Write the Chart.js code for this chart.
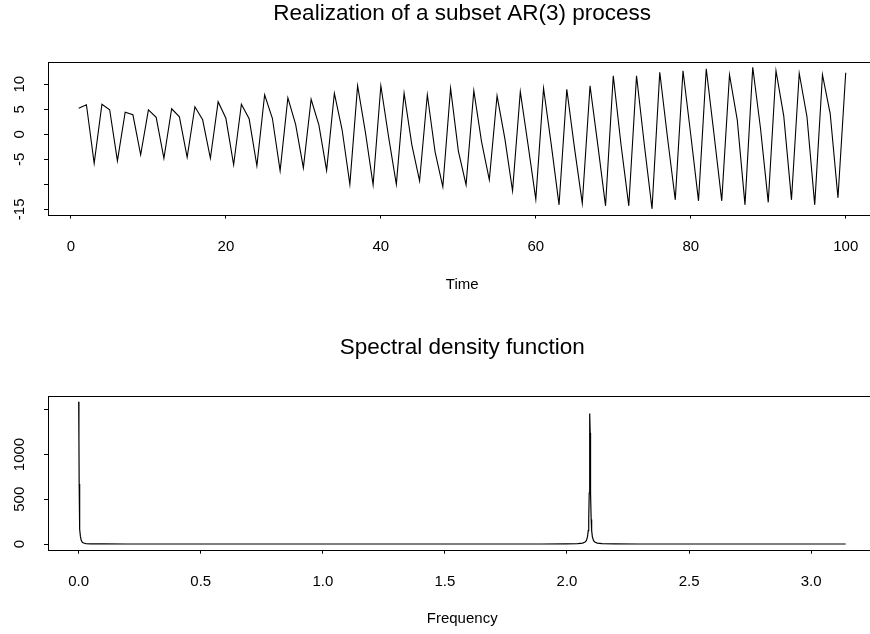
<!DOCTYPE html>
<html>
<head>
<meta charset="utf-8">
<script src="https://cdn.jsdelivr.net/npm/chart.js@4.4.1/dist/chart.umd.min.js"></script>
<style>
  html, body { margin: 0; padding: 0; background: #fff; overflow: hidden; }
  #wrap { position: relative; width: 870px; height: 634px; overflow: hidden; }
  canvas { position: absolute; left: 0; }
</style>
</head>
<body>
<div id="wrap">
  <canvas id="graficoSerie" width="900" height="317" style="top:0"></canvas>
  <canvas id="graficoEspectro" width="900" height="317" style="top:317px"></canvas>
</div>
<script>
// serie simulada (t = 1..100)
const arValues = [
  5.2, 5.9, -5.8, 6.0, 4.9, -5.3, 4.4, 3.9, -4.1, 4.9,
  3.4, -4.8, 5.1, 3.5, -4.6, 5.5, 2.9, -4.8, 6.5, 3.2,
  -6.1, 6.0, 3.1, -6.3, 7.9, 3.2, -7.3, 7.3, 2.0, -6.7,
  7.0, 1.9, -7.2, 8.2, 0.9, -10.0, 9.7, 0.5, -10.1, 9.7,
  -0.5, -10.0, 8.2, -2.1, -9.3, 7.9, -3.5, -10.5, 9.2, -3.3,
  -10.1, 8.7, -1.5, -9.1, 7.7, -0.8, -11.3, 8.5, -2.1, -13.0,
  9.2, -2.1, -14.1, 9.0, -2.8, -13.8, 9.7, -2.1, -14.3, 11.7,
  -2.1, -14.3, 11.7, -2.0, -14.9, 12.4, -0.7, -13.1, 12.7, -0.1,
  -13.3, 13.1, 0.0, -13.3, 11.9, 2.9, -14.1, 13.4, 1.2, -13.6,
  12.7, 3.7, -13.1, 12.2, 3.5, -14.1, 11.9, 4.1, -12.7, 12.3
];
const timeTicks = [0, 20, 40, 60, 80, 100];
const arYTicks = [-15, -10, -5, 0, 5, 10];
const arYHidden = [-10];

// densidad espectral (frecuencia, valor)
const specFreq = [
  0, 0.001, 0.002, 0.003, 0.004, 0.005, 0.007, 0.01, 0.015, 0.02,
  0.03, 0.05, 0.1, 0.2, 0.5, 1.0, 1.5, 1.894, 1.994, 2.044,
  2.064, 2.074, 2.079, 2.084, 2.087, 2.089, 2.091, 2.092, 2.093, 2.094,
  2.095, 2.096, 2.097, 2.099, 2.101, 2.104, 2.109, 2.114, 2.124, 2.144,
  2.194, 2.294, 2.6, 3.0, 3.1416
];
const specDens = [
  1590, 1180, 670, 390, 240, 165, 88, 45, 20, 11.5,
  5.1, 1.8, 0.5, 0.15, 0.06, 0.05, 0.08, 0.25, 0.9, 3.4,
  9.3, 21, 37, 80, 150, 275, 570, 860, 1240, 1457,
  1240, 860, 570, 275, 150, 80, 37, 21, 9.3, 3.4,
  0.9, 0.25, 0.1, 0.07, 0.06
];
const freqTicks = [0, 0.5, 1, 1.5, 2, 2.5, 3];
const densTicks = [0, 500, 1000, 1500];
const densHidden = [1500];

Chart.defaults.font.family = '"Liberation Sans", Arial, Helvetica, sans-serif';
Chart.defaults.color = '#000';

// caja alrededor del area de trazado (bty = "o")
const marco = {
  id: 'marco',
  afterDraw(chart) {
    const { ctx, chartArea: a } = chart;
    ctx.save();
    ctx.strokeStyle = '#000';
    ctx.lineWidth = 1;
    ctx.strokeRect(Math.round(a.left) + 0.5, Math.round(a.top) + 0.5,
      Math.round(a.right - a.left), Math.round(a.bottom - a.top));
    ctx.restore();
  }
};

// rango como R: extension del 4% a cada lado
function rango(vals) {
  const lo = Math.min(...vals), hi = Math.max(...vals);
  const d = (hi - lo) * 0.04;
  return [lo - d, hi + d];
}

function opciones(c) {
  return {
    responsive: false,
    animation: false,
    layout: { padding: { left: 0, right: 23.6, top: 0, bottom: 0 } },
    plugins: {
      legend: { display: false },
      tooltip: { enabled: false },
      title: {
        display: true, text: c.titulo, fullSize: false, color: '#000',
        font: { size: 22.5, weight: 'normal' }, padding: c.titPad
      }
    },
    scales: {
      x: {
        type: 'linear', min: c.xr[0], max: c.xr[1],
        afterBuildTicks: s => { s.ticks = c.xTicks.map(v => ({ value: v })); },
        afterFit: s => { s.height = c.xAlto; },
        grid: { drawOnChartArea: false, drawTicks: true, tickLength: 4, color: '#000' },
        border: { display: false },
        ticks: { font: { size: 15 }, padding: 19, maxRotation: 0, autoSkip: false, callback: c.xFmt },
        title: { display: true, text: c.xTitulo, font: { size: 15 }, padding: { top: 0, bottom: c.xTitPad } }
      },
      y: {
        type: 'linear', min: c.yr[0], max: c.yr[1],
        afterBuildTicks: s => { s.ticks = c.yTicks.map(v => ({ value: v })); },
        afterFit: s => { s.width = 48; },
        grid: { drawOnChartArea: false, drawTicks: true, tickLength: 4, color: '#000' },
        border: { display: false },
        ticks: {
          font: { size: 15 }, minRotation: 90, maxRotation: 90, crossAlign: 'center',
          padding: c.yPad, autoSkip: false,
          callback: v => c.yHidden.includes(v) ? '' : String(v)
        }
      }
    }
  };
}

const tiempo = arValues.map((v, i) => i + 1);

new Chart(document.getElementById('graficoSerie'), {
  type: 'line',
  data: {
    datasets: [{
      data: arValues.map((v, i) => ({ x: tiempo[i], y: v })),
      borderColor: '#000', borderWidth: 1.1, pointRadius: 0, tension: 0, fill: false
    }]
  },
  options: opciones({
    titulo: 'Realization of a subset AR(3) process',
    titPad: { top: 0, bottom: 34.6 },
    xr: rango(tiempo), yr: rango(arValues),
    xTicks: timeTicks, yTicks: arYTicks, yHidden: arYHidden,
    xFmt: v => String(v),
    xAlto: 102.5, xTitulo: 'Time', xTitPad: 23, yPad: 13.7
  }),
  plugins: [marco]
});

new Chart(document.getElementById('graficoEspectro'), {
  type: 'line',
  data: {
    datasets: [{
      data: specFreq.map((f, i) => ({ x: f, y: specDens[i] })),
      borderColor: '#000', borderWidth: 1.2, pointRadius: 0, tension: 0, fill: false
    }]
  },
  options: opciones({
    titulo: 'Spectral density function',
    titPad: { top: 17.5, bottom: 34.5 },
    xr: rango(specFreq), yr: rango([0].concat(specDens)),
    xTicks: freqTicks, yTicks: densTicks, yHidden: densHidden,
    xFmt: v => v.toFixed(1),
    xAlto: 84.3, xTitulo: 'Frequency', xTitPad: 6, yPad: 7.8
  }),
  plugins: [marco]
});
</script>
</body>
</html>
